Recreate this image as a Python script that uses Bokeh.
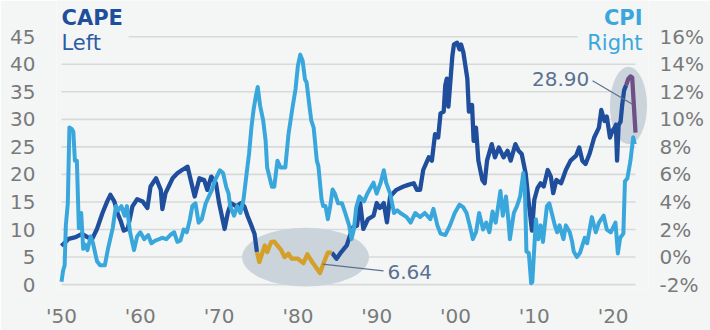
import numpy as np
from bokeh.plotting import figure
from bokeh.models import Range1d, LinearAxis, FixedTicker, PrintfTickFormatter
from bokeh.core.properties import value
from bokeh.embed import file_html
from bokeh.resources import INLINE

# ---------------- data ----------------
cape_years = [
    1950.0, 1950.9, 1951.8, 1952.6, 1953.3, 1953.9, 1954.5, 1955.2, 1955.8, 1956.2,
    1956.7, 1957.1, 1957.5, 1957.9, 1958.4, 1959.0, 1959.6, 1960.3, 1960.9, 1961.3,
    1962.0, 1962.6, 1962.8, 1963.2, 1964.1, 1964.7, 1965.3, 1966.0, 1966.4, 1966.9,
    1967.5, 1968.1, 1968.5, 1969.0, 1969.6, 1970.0, 1970.7, 1971.1, 1971.5, 1972.2,
    1972.8, 1973.2, 1973.6, 1974.1, 1974.5, 1974.8, 1975.1, 1975.8, 1976.1, 1976.6,
    1977.0, 1977.9, 1978.3, 1978.8, 1979.2, 1980.0, 1980.7, 1981.2, 1981.9, 1982.8,
    1983.4, 1983.8, 1984.3, 1984.9, 1985.5, 1986.2, 1986.6, 1987.0, 1987.5, 1987.9,
    1988.3, 1988.9, 1989.6, 1990.0, 1990.4, 1990.9, 1991.3, 1991.7, 1992.5, 1993.4,
    1994.0, 1994.7, 1995.1, 1995.5, 1995.9, 1996.6, 1997.0, 1997.4, 1997.8, 1998.1,
    1998.5, 1998.7, 1998.9, 1999.1, 1999.6, 1999.8, 2000.2, 2000.5, 2000.7, 2001.0,
    2001.5, 2001.7, 2002.1, 2002.3, 2002.6, 2002.9, 2003.4, 2003.7, 2004.0, 2004.6,
    2005.0, 2005.5, 2006.1, 2006.6, 2007.0, 2007.6, 2008.0, 2008.4, 2008.9, 2009.3,
    2009.7, 2010.0, 2010.4, 2010.8, 2011.2, 2011.7, 2012.1, 2012.4, 2012.8, 2013.4, 2014.0,
    2014.6, 2015.3, 2015.7, 2016.1, 2016.5, 2017.0, 2017.6, 2018.2, 2018.5, 2018.9,
    2019.2, 2019.6, 2019.9, 2020.2, 2020.35, 2020.5, 2020.7, 2020.95, 2021.15, 2021.4,
    2021.66, 2021.91, 2022.2, 2022.42, 2022.84,
]
cape_values = [
    7.0, 8.3, 8.6, 9.2, 8.6, 8.3, 10.1, 13.0, 15.1, 16.3,
    15.1, 13.0, 11.6, 9.8, 10.1, 14.2, 15.5, 15.1, 13.9, 17.8,
    19.3, 17.2, 13.7, 16.6, 19.3, 20.2, 20.8, 21.4, 19.0, 16.0,
    19.3, 19.0, 17.2, 19.6, 18.4, 14.8, 10.1, 13.0, 14.8, 14.2,
    14.8, 14.2, 12.5, 10.7, 9.2, 5.9, 4.1, 7.1, 5.9, 7.7,
    7.8, 6.2, 5.0, 5.6, 4.7, 4.7, 3.9, 5.5, 3.9, 2.1,
    4.4, 5.8, 5.8, 4.7, 5.9, 7.1, 8.9, 10.4, 10.7, 14.8,
    10.1, 11.9, 12.5, 14.8, 13.9, 14.8, 11.3, 16.0, 17.2, 17.8,
    18.1, 18.4, 17.2, 17.2, 20.8, 23.1, 22.5, 27.3, 26.7, 31.1,
    31.4, 36.2, 37.4, 32.3, 41.5, 43.6, 43.9, 42.7, 43.6, 42.1,
    37.4, 31.4, 32.6, 26.1, 28.5, 22.5, 19.0, 18.4, 22.5, 25.5,
    23.1, 24.9, 23.1, 24.3, 22.5, 25.5, 24.3, 23.7, 20.2, 14.8,
    9.8, 15.4, 17.5, 18.4, 17.8, 20.8, 19.6, 16.6, 19.0, 18.4, 20.8,
    22.5, 23.4, 24.9, 22.5, 21.9, 23.7, 26.7, 28.5, 31.7, 29.7,
    30.5, 26.7, 27.9, 28.5, 29.0, 22.5, 29.0, 29.6, 32.6, 35.3,
    36.2, 37.3, 37.8, 37.6, 27.6,
]

cpi_years = [
    1950.0, 1950.2, 1950.4, 1950.55, 1950.8, 1951.0, 1951.3, 1951.5, 1951.7, 1951.95,
    1952.2, 1952.5, 1952.75, 1953.0, 1953.3, 1953.7, 1954.0, 1954.5, 1954.9, 1955.5,
    1955.9, 1956.5, 1956.9, 1957.2, 1957.6, 1958.0, 1958.3, 1958.7, 1959.2, 1959.6,
    1960.0, 1960.5, 1961.0, 1961.4, 1961.9, 1962.4, 1962.8, 1963.3, 1963.8, 1964.3,
    1964.7, 1965.1, 1965.5, 1965.9, 1966.3, 1966.6, 1967.0, 1967.4, 1967.8, 1968.3,
    1968.7, 1969.1, 1969.5, 1970.1, 1970.5, 1970.9, 1971.2, 1971.4, 1971.9, 1972.3,
    1972.7, 1973.1, 1973.5, 1973.8, 1974.1, 1974.4, 1974.7, 1974.9, 1975.2, 1975.6,
    1975.9, 1976.1, 1976.4, 1976.7, 1977.0, 1977.4, 1977.8, 1978.4, 1978.8, 1979.3,
    1979.7, 1980.0, 1980.3, 1980.6, 1980.9, 1981.1, 1981.5, 1981.7, 1982.0, 1982.4,
    1982.6, 1983.0, 1983.2, 1983.5, 1983.8, 1984.1, 1984.4, 1984.7, 1985.1, 1985.6,
    1986.0, 1986.5, 1986.8, 1987.1, 1987.4, 1987.8, 1988.4, 1988.8, 1989.3, 1989.6,
    1990.0, 1990.5, 1990.9, 1991.2, 1991.7, 1992.2, 1992.6, 1993.0, 1993.8, 1994.3,
    1994.9, 1995.5, 1996.1, 1996.8, 1997.2, 1997.7, 1998.1, 1998.7, 1999.3, 1999.9,
    2000.5, 2001.0, 2001.4, 2001.8, 2002.2, 2002.6, 2003.0, 2003.5, 2003.9, 2004.3,
    2004.7, 2005.1, 2005.7, 2006.0, 2006.4, 2006.7, 2006.9, 2007.4, 2007.8, 2008.2,
    2008.6, 2008.8, 2009.0, 2009.3, 2009.6, 2009.75, 2010.2, 2010.5, 2010.8, 2011.1,
    2011.6, 2011.9, 2012.3, 2012.6, 2012.9, 2013.2, 2013.7, 2014.0, 2014.5, 2014.8,
    2015.0, 2015.4, 2015.8, 2016.4, 2016.7, 2017.3, 2017.8, 2018.2, 2018.8, 2019.2,
    2019.7, 2020.3, 2020.6, 2020.9, 2021.3, 2021.5, 2021.8, 2022.2, 2022.55, 2022.75,
]
cpi_values = [
    -1.8, -1.0, -0.6, 2.3, 3.9, 9.4, 9.3, 9.1, 7.0, 7.0,
    2.1, 3.2, 0.6, 0.9, 0.5, 1.5, 1.0, -0.3, -0.6, -0.6,
    0.6, 2.1, 3.7, 3.4, 3.7, 3.0, 3.7, 1.8, 0.5, 1.5,
    1.8, 1.3, 1.6, 1.0, 1.2, 1.3, 1.4, 1.3, 1.6, 1.8,
    1.1, 1.2, 2.0, 1.8, 2.75, 3.7, 3.9, 2.5, 2.75, 3.9,
    4.4, 4.9, 5.6, 6.3, 6.1, 5.1, 4.6, 3.7, 3.0, 3.7,
    3.2, 4.2, 6.1, 7.5, 9.4, 10.8, 11.8, 12.35, 11.0, 9.9,
    8.45, 6.5, 5.8, 5.1, 5.1, 7.0, 6.5, 6.5, 8.9, 10.8,
    12.2, 13.9, 14.7, 14.25, 12.9, 12.7, 10.8, 9.9, 9.4, 7.0,
    6.6, 4.2, 3.7, 3.7, 2.75, 3.7, 4.9, 4.6, 3.9, 3.9,
    3.2, 2.3, 1.3, 2.0, 3.6, 4.4, 4.05, 4.6, 5.1, 5.4,
    4.6, 5.4, 6.3, 5.4, 4.6, 3.2, 3.4, 3.2, 2.9, 2.5,
    3.2, 2.9, 3.2, 2.75, 3.5, 2.3, 1.7, 1.6, 2.3, 3.2,
    3.8, 3.6, 3.2, 2.3, 1.3, 1.8, 3.2, 2.0, 2.5, 1.8,
    3.3, 2.5, 4.8, 3.0, 4.4, 2.75, 1.3, 3.2, 3.7, 4.4,
    6.1, 5.0, 0.4, 0.3, -1.9, -1.8, 2.75, 1.3, 2.3, 1.1,
    3.7, 3.9, 3.0, 2.3, 1.8, 2.3, 1.3, 2.3, 1.8, 1.1,
    0.4, 0.0, 0.3, 1.4, 1.0, 2.9, 1.8, 2.5, 3.0, 2.0,
    1.8, 2.5, 0.26, 1.4, 1.7, 5.5, 5.7, 7.0, 8.7, 8.2,
]

low_period = (1974.8, 1984.3)      # highlighted low-CAPE stretch
recent_period_start = 2021.66      # highlighted recent stretch
low_label = "6.64"
recent_label = "28.90"

cape_ticks = [0, 5, 10, 15, 20, 25, 30, 35, 40, 45]
cpi_ticks = [-2, 0, 2, 4, 6, 8, 10, 12, 14, 16]
year_ticks = [1950, 1960, 1970, 1980, 1990, 2000, 2010, 2020]
year_labels = ["'50", "'60", "'70", "'80", "'90", "'00", "'10", "'20"]

# ---------------- style ----------------
FONT = "DejaVu Sans"
BG = "#F4F6F6"
GRID = "#D8DADA"
DARK = "#1F4E9C"
LIGHT = "#3AA7DC"
GOLD = "#D4A02A"
PURPLE = "#6E4F86"
ELLIPSE = "#CBD3DB"
NOTE = "#5B7190"
TICK = "#7A7A7A"

p = figure(width=710, height=330, output_backend="svg", toolbar_location=None,
           x_range=Range1d(1949.365, 2024.49), y_range=Range1d(-0.711, 51.575),
           min_border_left=56, min_border_right=62, min_border_top=0,
           min_border_bottom=36, background_fill_color=BG, border_fill_color=BG,
           outline_line_color=None)
p.xgrid.visible = False
p.ygrid.visible = False
p.extra_y_ranges = {"cpi": Range1d((-0.711 - 5) / 2.5, (51.575 - 5) / 2.5)}
right_axis = LinearAxis(y_range_name="cpi")
p.add_layout(right_axis, "right")

left_axis = p.yaxis[0]
bottom_axis = p.xaxis[0]
for ax in (left_axis, right_axis, bottom_axis):
    ax.axis_line_color = None
    ax.major_tick_line_color = None
    ax.minor_tick_line_color = None
    ax.major_label_text_color = TICK
    ax.major_label_text_font = FONT
    ax.major_label_text_font_size = "20px"

left_axis.ticker = FixedTicker(ticks=cape_ticks)
left_axis.major_label_standoff = 15
right_axis.ticker = FixedTicker(ticks=cpi_ticks)
right_axis.formatter = PrintfTickFormatter(format="%d%%")
right_axis.major_label_standoff = 5
bottom_axis.ticker = FixedTicker(ticks=year_ticks)
bottom_axis.major_label_overrides = {y: l for y, l in zip(year_ticks, year_labels)}
bottom_axis.major_label_standoff = 9

# grid lines (top one shortened where the series titles sit)
gx0 = [1958.5 if t == 45 else 1950 for t in cape_ticks]
gx1 = [2015.5 if t == 45 else 2022.84 for t in cape_ticks]
p.segment(x0=gx0, y0=cape_ticks, x1=gx1, y1=cape_ticks, line_color=GRID, line_width=1.6)

# highlight ellipses
p.ellipse(x=[1980.97], y=[4.98], width=16.1, height=10.67, fill_color=ELLIPSE, line_color=None)
p.ellipse(x=[2021.95], y=[32.5], width=4.7, height=14.05, fill_color=ELLIPSE, line_color=None)

# CAPE line segments
cy = np.array(cape_years)
cv = np.array(cape_values)
m1 = cy <= low_period[0]
m2 = (cy >= low_period[0]) & (cy <= low_period[1])
m3 = (cy >= low_period[1]) & (cy <= recent_period_start)
m4 = cy >= recent_period_start
for m, col in ((m1, DARK), (m3, DARK), (m2, GOLD), (m4, PURPLE)):
    p.line(cy[m], cv[m], line_color=col, line_width=4.3, line_join="round")

# CPI line (right axis)
p.line(cpi_years, cpi_values, y_range_name="cpi", line_color=LIGHT, line_width=4,
       line_join="round")

# annotations
p.segment(x0=[2017.39], y0=[36.99], x1=[2022.46], y1=[32.72], line_color=NOTE, line_width=1.2)
p.segment(x0=[1983.12], y0=[3.73], x1=[1990.86], y1=[2.49], line_color=NOTE, line_width=1.2)
p.text(x=[2013.33], y=[37.35], text=[recent_label], text_align="center", text_baseline="middle",
       text_font=value(FONT), text_font_size="20px", text_color=NOTE)
p.text(x=[1991.37], y=[2.31], text=[low_label], text_align="left", text_baseline="middle",
       text_font=value(FONT), text_font_size="20px", text_color=NOTE)

# series titles
p.text(x=[1950], y=[48.37], text=["CAPE"], text_align="left", text_baseline="middle",
       text_font=value(FONT), text_font_size="21px", text_font_style="bold", text_color=DARK)
p.text(x=[1950], y=[43.84], text=["Left"], text_align="left", text_baseline="middle",
       text_font=value(FONT), text_font_size="21px", text_color="#2C5CA6")
p.text(x=[2023.73], y=[48.37], text=["CPI"], text_align="right", text_baseline="middle",
       text_font=value(FONT), text_font_size="21px", text_font_style="bold", text_color=LIGHT)
p.text(x=[2023.73], y=[43.84], text=["Right"], text_align="right", text_baseline="middle",
       text_font=value(FONT), text_font_size="21px", text_color=LIGHT)

open("out.html", "w").write(file_html(p, INLINE))
